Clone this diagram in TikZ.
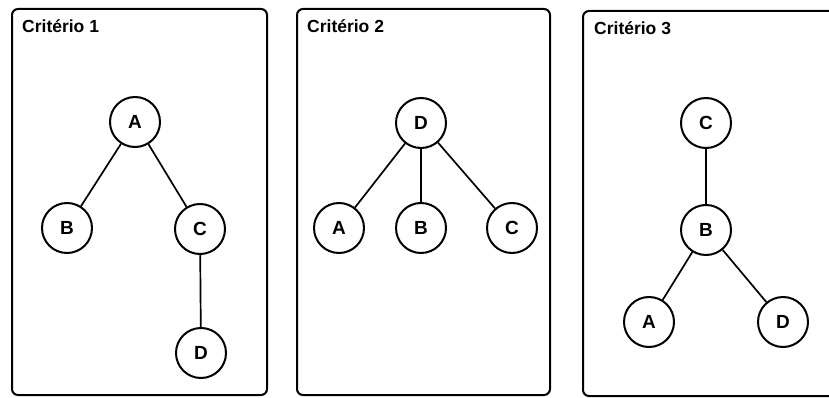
\documentclass[tikz,border=0pt]{standalone}
\usepackage{fontspec}
\setmainfont{Liberation Sans}
\begin{document}
\begin{tikzpicture}[x=1pt,y=-1pt,
  panel/.style={draw, line width=2pt, rounded corners=6pt},
  title/.style={anchor=base west, font=\bfseries\fontsize{17.5}{20}\selectfont, inner sep=0pt},
  vertex/.style={circle, draw, line width=2pt, minimum size=50pt, inner sep=0pt,
                 font=\bfseries\fontsize{19}{22}\selectfont},
  edge/.style={line width=1.7pt}]
  \useasboundingbox (0,0) rectangle (829,398);

  % three framed panels
  \draw[panel] (12,9) rectangle (267,395);
  \draw[panel] (297,9) rectangle (550,395);
  \draw[panel] (583,11) rectangle (840,396);

  \node[title] (t1) at (22,33) {Critério 1};
  \node[title] (t2) at (307,33) {Critério 2};
  \node[title] (t3) at (594,35) {Critério 3};

  % first tree
  \node[vertex] (a1) at (135,122) {A};
  \node[vertex] (b1) at (67,228) {B};
  \node[vertex] (c1) at (200,229) {C};
  \node[vertex] (d1) at (201,353) {D};
  \draw[edge] (a1) -- (b1);
  \draw[edge] (a1) -- (c1);
  \draw[edge] (c1) -- (d1);

  % second tree
  \node[vertex] (d2) at (421,123) {D};
  \node[vertex] (a2) at (339,228) {A};
  \node[vertex] (b2) at (421,228) {B};
  \node[vertex] (c2) at (512,228) {C};
  \draw[edge] (d2) -- (a2);
  \draw[edge] (d2) -- (b2);
  \draw[edge] (d2) -- (c2);

  % third tree
  \node[vertex] (c3) at (706,123) {C};
  \node[vertex] (b3) at (706,230) {B};
  \node[vertex] (a3) at (649,322) {A};
  \node[vertex] (d3) at (783,322) {D};
  \draw[edge] (c3) -- (b3);
  \draw[edge] (b3) -- (a3);
  \draw[edge] (b3) -- (d3);
\end{tikzpicture}
\end{document}
